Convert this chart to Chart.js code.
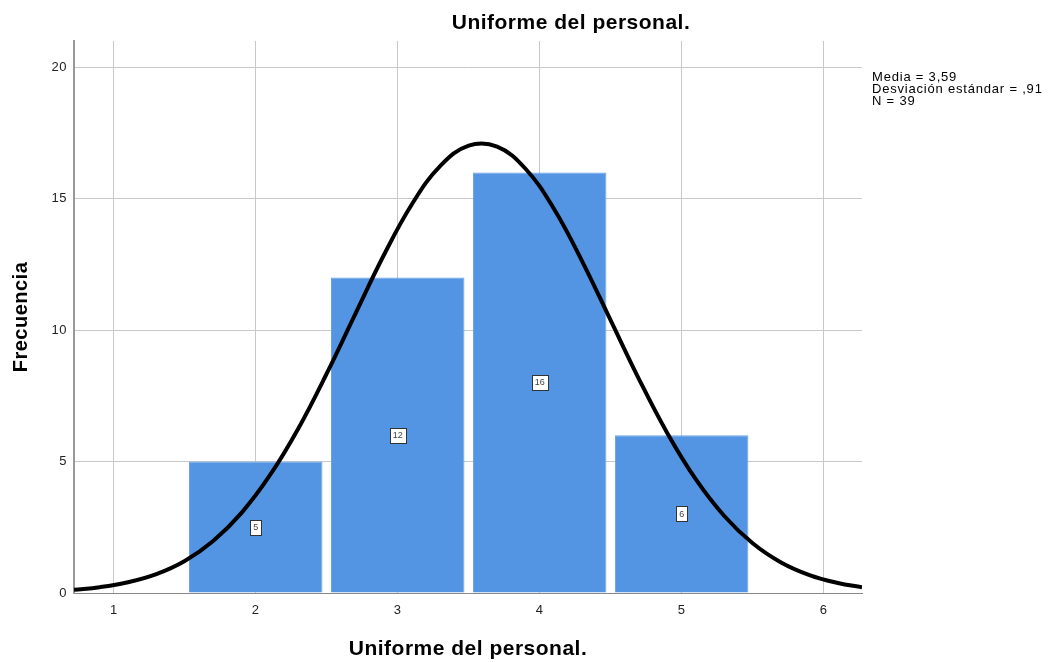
<!DOCTYPE html>
<html>
<head>
<meta charset="utf-8">
<script src="https://cdn.jsdelivr.net/npm/chart.js@4.4.1/dist/chart.umd.min.js"></script>
<style>
  html, body { margin: 0; padding: 0; background: #fff; }
  #wrap { position: relative; width: 1048px; height: 662px; }
  #title { position: absolute; left: 0; top: 10px; width: 1142px; text-align: center;
           font: bold 21px "Liberation Sans", Arial, sans-serif; letter-spacing: 0.5px; color: #000; }
  #stats { position: absolute; left: 872px; top: 71px; font: 13px "Liberation Sans", Arial, sans-serif;
           letter-spacing: 0.8px; line-height: 12px; color: #000; white-space: nowrap; }
</style>
</head>
<body>
<div id="wrap">
  <canvas id="c" width="1048" height="662"></canvas>
  <div id="title">Uniforme del personal.</div>
  <div id="stats">Media = 3,59<br>Desviación estándar = ,91<br>N = 39</div>
</div>
<script>
// Data
const titleText = "Uniforme del personal.";
const xAxisTitle = "Uniforme del personal.";
const yAxisTitle = "Frecuencia";
const categories = [2, 3, 4, 5];
const frequencies = [5, 12, 16, 6];
const xTicks = [1, 2, 3, 4, 5, 6];
const yTicks = [0, 5, 10, 15, 20];
// Normal curve points
const curveX = [0.72, 0.9, 1.1, 1.3, 1.5, 1.7, 1.9, 2.1, 2.3, 2.5, 2.7, 2.9, 3.1, 3.3, 3.5, 3.7, 3.9, 4.1, 4.3, 4.5, 4.7, 4.9, 5.1, 5.3, 5.5, 5.7, 5.9, 6.1, 6.27];
const curveY = [0.12, 0.22, 0.41, 0.72, 1.22, 1.98, 3.05, 4.48, 6.26, 8.35, 10.60, 12.83, 14.79, 16.25, 17.02, 16.98, 16.14, 14.62, 12.61, 10.37, 8.13, 6.07, 4.32, 2.93, 1.89, 1.16, 0.68, 0.38, 0.22];

const barData = categories.map((c, i) => ({ x: c, y: frequencies[i] }));
const curveData = curveX.map((x, i) => ({ x: x, y: curveY[i] }));
const FONT = '"Liberation Sans", Arial, sans-serif';

const spacingPlugin = {
  id: 'spacing',
  beforeDraw(chart) { chart.ctx.letterSpacing = '0.5px'; },
  afterDraw(chart) { chart.ctx.letterSpacing = '0px'; }
};

const labelPlugin = {
  id: 'barLabels',
  afterDatasetsDraw(chart) {
    const meta = chart.getDatasetMeta(1);
    const ctx = chart.ctx;
    ctx.save();
    ctx.letterSpacing = '0px';
    ctx.font = '9px ' + FONT;
    ctx.textAlign = 'center';
    ctx.textBaseline = 'middle';
    meta.data.forEach((bar, i) => {
      const txt = String(frequencies[i]);
      const cx = bar.x;
      const cy = (bar.y + bar.base) / 2;
      const w = Math.round(ctx.measureText(txt).width + 6);
      const h = 15;
      const lx = Math.round(cx - w / 2) + 0.5;
      const ty = Math.round(cy - h / 2) + 0.5;
      ctx.fillStyle = '#ffffff';
      ctx.strokeStyle = '#333333';
      ctx.lineWidth = 1;
      ctx.fillRect(lx, ty, w, h);
      ctx.strokeRect(lx, ty, w, h);
      ctx.fillStyle = '#444444';
      ctx.fillText(txt, cx, cy + 0.5);
    });
    ctx.restore();
  }
};

new Chart(document.getElementById('c'), {
  type: 'bar',
  data: {
    datasets: [
      {
        type: 'line',
        data: curveData,
        borderColor: '#000000',
        borderWidth: 4,
        pointRadius: 0,
        tension: 0.4,
        fill: false,
        order: 0
      },
      {
        type: 'bar',
        data: barData,
        backgroundColor: '#5394e3',
        borderColor: '#6aa3e8',
        borderWidth: 1,
        barPercentage: 0.94,
        categoryPercentage: 1.0,
        order: 1
      }
    ]
  },
  plugins: [spacingPlugin, labelPlugin],
  options: {
    responsive: false,
    animation: false,
    events: [],
    layout: { padding: { top: 41, right: 186, left: 0, bottom: 0 } },
    plugins: { legend: { display: false }, tooltip: { enabled: false }, title: { display: false } },
    scales: {
      x: {
        type: 'linear',
        offset: false,
        min: 0.72,
        max: 6.27,
        afterFit: s => { s.height = 69; },
        afterBuildTicks: s => { s.ticks = xTicks.map(v => ({ value: v })); },
        ticks: { includeBounds: false, color: '#222', font: { family: FONT, size: 13 }, padding: 10 },
        grid: { offset: false, color: '#c8c8c8', lineWidth: 1, drawTicks: false },
        border: { color: '#888888', width: 1 },
        title: { display: true, text: xAxisTitle, color: '#000', font: { family: FONT, size: 21, weight: 'bold' }, padding: { top: 0, bottom: 0 } }
      },
      y: {
        min: 0,
        max: 21,
        afterFit: s => { s.width = 74; },
        afterBuildTicks: s => { s.ticks = yTicks.map(v => ({ value: v })); },
        ticks: { includeBounds: false, color: '#222', font: { family: FONT, size: 13 }, padding: 7 },
        grid: { color: '#c8c8c8', lineWidth: 1, drawTicks: false },
        border: { color: '#999999', width: 2 },
        title: { display: true, text: yAxisTitle, color: '#000', font: { family: FONT, size: 20, weight: 'bold' }, padding: { top: 9, bottom: 0 } }
      }
    }
  }
});
</script>
</body>
</html>
